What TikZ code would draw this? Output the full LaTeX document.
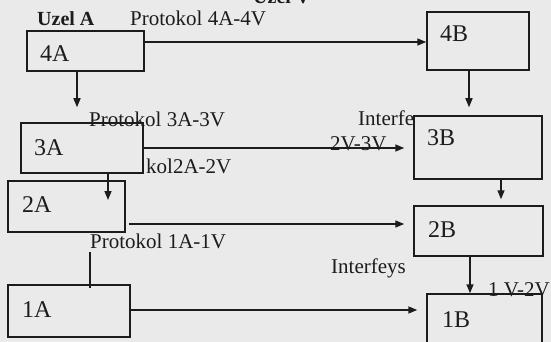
\documentclass[tikz,border=0pt]{standalone}
\usepackage{fontspec}
\setmainfont{Liberation Serif}
\usetikzlibrary{arrows.meta}
\definecolor{ink}{HTML}{1C1C1C}
\definecolor{paper}{HTML}{EAEAEA}
\tikzset{
  box/.style={draw=ink, line width=1.5pt, fill=none, inner sep=0pt},
  lbl/.style={text=ink, inner sep=0pt, anchor=base west, font=\fontsize{21}{24}\selectfont},
  blbl/.style={text=ink, inner sep=0pt, anchor=base west, font=\fontsize{24}{28}\selectfont},
  conn/.style={draw=ink, line width=1.5pt},
  arr/.style={conn, -{Triangle[length=9pt,width=7pt]}}
}
\begin{document}
\begin{tikzpicture}[x=1pt,y=-1pt]
\fill[paper] (0,0) rectangle (551,342);
\useasboundingbox (0,0) rectangle (551,342);
% boxes
\node[box, minimum width=117pt, minimum height=40pt] (a4) at (85.5,51) {};
\node[box, minimum width=102pt, minimum height=58pt] (b4) at (478,41) {};
\node[box, minimum width=122pt, minimum height=50pt] (a3) at (82,148) {};
\node[box, minimum width=128pt, minimum height=63pt] (b3) at (478,147.5) {};
\node[box, minimum width=117pt, minimum height=51pt] (a2) at (66.5,206.5) {};
\node[box, minimum width=129pt, minimum height=50pt] (b2) at (478.5,231) {};
\node[box, minimum width=122pt, minimum height=52pt] (a1) at (69,311) {};
\node[box, minimum width=115pt, minimum height=66pt] (b1) at (484.5,327) {};
% box labels
\node[blbl] (t4a) at (40,62) {4A};
\node[blbl] (t4b) at (440,42) {4B};
\node[blbl] (t3a) at (34,155) {3A};
\node[blbl] (t3b) at (427,145) {3B};
\node[blbl] (t2a) at (22,212) {2A};
\node[blbl] (t2b) at (428,237) {2B};
\node[blbl] (t1a) at (22,317) {1A};
\node[blbl] (t1b) at (442,327) {1B};
% other labels
\node[lbl, font=\fontsize{20}{24}\selectfont\bfseries] (uv) at (253,4) {Uzel V};
\node[lbl, font=\fontsize{20}{24}\selectfont\bfseries] (ua) at (37,26) {Uzel A};
\node[lbl] (p4) at (130,26) {Protokol 4A-4V};
\node[lbl] (p3) at (89,126) {Protokol 3A-3V};
\node[lbl] (i3) at (358,125) {Interfe};
\node[lbl] (v23) at (330,150) {2V-3V};
\node[lbl] (p2) at (146,173) {kol2A-2V};
\node[lbl] (p1) at (90,248) {Protokol 1A-1V};
\node[lbl] (i1) at (331,273) {Interfeys};
\node[lbl] (v12) at (488,296) {1 V-2V};
% connectors
\draw[arr] ([yshift=9pt]a4.east) -- ([yshift=9pt]a4.east -| b4.west);
\draw[arr, shorten >=15pt] ([xshift=-8.5pt]a4.south) -- ([xshift=-8.5pt]a4.south |- a3.north);
\draw[arr, shorten >=8pt] ([xshift=-9pt]b4.south) -- ([xshift=-9pt]b4.south |- b3.north);
\draw[arr, shorten >=9pt] (a3.east) -- (a3.east -| b3.west);
\coordinate (t32) at (108,200);
\draw[arr] ([xshift=26pt]a3.south) -- (t32);
\draw[arr, shorten >=6pt] ([xshift=23pt]b3.south) -- ([xshift=23pt]b3.south |- b2.north);
\draw[arr, shorten <=3pt, shorten >=9pt] ([yshift=-17.5pt]a2.east) -- ([yshift=-17.5pt]a2.east -| b2.west);
\draw[conn] ([yshift=-4pt]p1.base west) -- ([yshift=-4pt]p1.base west |- a1.north);
\draw[arr, shorten >=9pt] ([yshift=1pt]a1.east) -- ([yshift=1pt]a1.east -| b1.west);
\draw[arr] ([xshift=-8.5pt]b2.south) -- ([xshift=-8.5pt]b2.south |- b1.north);
\end{tikzpicture}
\end{document}
